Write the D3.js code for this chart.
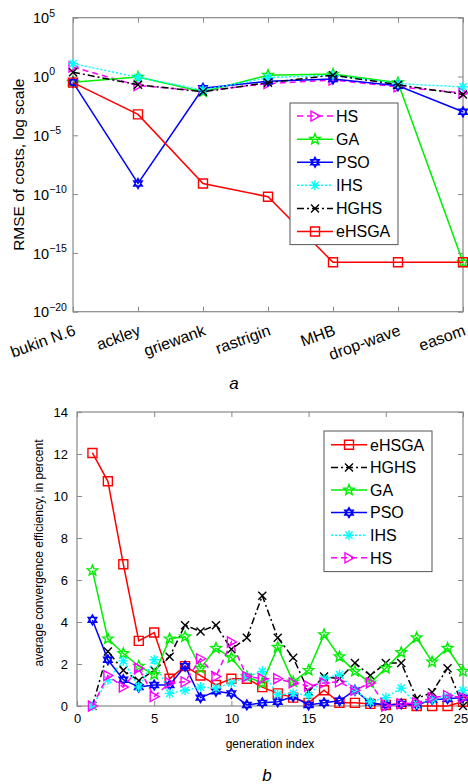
<!DOCTYPE html>
<html>
<head>
<meta charset="utf-8">
<script src="https://cdn.jsdelivr.net/npm/d3@7"></script>
<style>
body{margin:0;background:#fff;}
svg text{font-family:"Liberation Sans",Arial,sans-serif;fill:#000;}
</style>
</head>
<body>
<div id="canvas"></div>
<script>
// ---- data, chart a (RMSE per test function) ----
var funcs = ['bukin N.6','ackley','griewank','rastrigin','MHB','drop-wave','easom'];
var rmseHS    = [6.3, 0.17, 0.06, 0.25, 0.5, 0.13, 0.04];
var rmseGA    = [0.32, 0.9, 0.05, 1.3, 1.6, 0.3, 1.6e-16];
var rmsePSO   = [0.32, 8e-10, 0.1, 0.4, 0.6, 0.16, 1e-3];
var rmseIHS   = [12.6, 0.85, 0.07, 0.8, 1.3, 0.25, 0.13];
var rmseHGHS  = [2.3, 0.2, 0.05, 0.3, 1.3, 0.2, 0.03];
var rmseEHSGA = [0.3, 6e-4, 8e-10, 6e-11, 1.6e-16, 1.6e-16, 1.6e-16];
var logTicks  = [1e-20, 1e-15, 1e-10, 1e-5, 1e0, 1e5];

// ---- data, chart b (convergence efficiency per generation) ----
var generations = d3.range(1, 26);
var effEHSGA = [12.05,10.7,6.75,3.1,3.5,1.3,1.9,1.45,1.0,1.3,1.3,0.9,0.6,0.4,0.15,0.75,0.15,0.15,0.1,0.05,0.1,0.0,0.0,0.0,0.2];
var effHGHS  = [0,2.6,1.7,1.2,1.7,2.35,3.85,3.55,3.85,2.7,3.25,5.25,3.25,2.3,0.7,1.4,1.3,2.05,1.45,2.05,2.05,0.35,0.65,1.8,0];
var effGA    = [6.45,3.2,2.5,1.9,1.5,3.2,3.3,1.8,2.75,2.3,1.4,1.1,2.8,1.15,1.7,3.4,2.35,1.65,1.1,1.8,2.55,3.25,2.1,2.75,1.65];
var effPSO   = [4.1,2.2,1.25,0.9,1.0,1.0,1.9,0.4,0.7,0.6,0.05,0.15,0.2,0.45,0.05,0.15,0.25,0.75,0.15,0.05,0.1,0.05,0.3,0.35,0.4];
var effIHS   = [0,1.25,2.15,0.9,2.2,0.6,0.75,0.9,0.85,1.1,1.4,1.65,0.55,0.6,0.5,1.3,1.5,0.75,0.2,0.4,0.85,0.1,0.3,0.45,0.75];
var effHS    = [0,1.45,0.9,1.8,0.45,1.1,1.15,2.25,1.4,3.05,1.4,1.3,1.3,1.1,0.95,1.1,1.15,0.75,1.1,0.0,0.1,0.15,0.4,0.5,0.4];
var yTicksB  = [0,2,4,6,8,10,12,14];
var xTicksB  = [0,5,10,15,20,25];

var W = 468, H = 784;
var svg = d3.select('#canvas').append('svg').attr('width', W).attr('height', H);

// marker shapes (MATLAB style, unfilled)
function markerPath(type){
    if(type=='square') return 'M-4.5,-4.5h9v9h-9z';
    if(type=='x') return 'M-4,-4L4,4M-4,4L4,-4';
    if(type=='tri') return 'M-4,-5L5,0L-4,5Z';
    if(type=='star'){
        var p = [];
        for(var i=0;i<10;i++){
            var r = i%2 ? 2.4 : 5.5, a = -Math.PI/2 + i*Math.PI/5;
            p.push([r*Math.cos(a), r*Math.sin(a)]);
        }
        return 'M'+p.join('L')+'Z';
    }
    if(type=='hex'){
        var t1 = [], t2 = [];
        for(var j=0;j<3;j++){
            var a1 = -Math.PI/2 + j*2*Math.PI/3, a2 = Math.PI/2 + j*2*Math.PI/3;
            t1.push([5*Math.cos(a1), 5*Math.sin(a1)]);
            t2.push([5*Math.cos(a2), 5*Math.sin(a2)]);
        }
        return 'M'+t1.join('L')+'ZM'+t2.join('L')+'Z';
    }
    if(type=='ast') return 'M-5,0L5,0M0,-5L0,5M-3.6,-3.6L3.6,3.6M-3.6,3.6L3.6,-3.6';
}

var styles = {
    HS:    {color:'#ff00ff', dash:'6,4',     marker:'tri'},
    GA:    {color:'#00ee00', dash:null,      marker:'star'},
    PSO:   {color:'#0000ff', dash:null,      marker:'hex'},
    IHS:   {color:'#00ffff', dash:'2,2',     marker:'ast'},
    HGHS:  {color:'#000000', dash:'7,3,2,3', marker:'x'},
    eHSGA: {color:'#ff0000', dash:null,      marker:'square'}
};

function drawSeries(g, name, pts){
    var s = styles[name];
    g.append('path')
        .datum(pts)
        .attr('d', d3.line().x(function(d){return d[0];}).y(function(d){return d[1];}))
        .style('fill','none').style('stroke', s.color).style('stroke-width', 1.5)
        .style('stroke-dasharray', s.dash);
    g.selectAll('.m'+name).data(pts).enter()
        .append('path').attr('class','m'+name)
        .attr('transform', function(d){return 'translate('+d[0]+','+d[1]+')';})
        .attr('d', markerPath(s.marker))
        .style('fill','none').style('stroke', s.color).style('stroke-width', 1.4);
}

function drawLegend(g, names, x, y, w, rowH, pad){
    g.append('rect').attr('x',x).attr('y',y).attr('width',w).attr('height',rowH*names.length+pad*2)
        .style('fill','#fff').style('stroke','#555').style('stroke-width',1);
    names.forEach(function(n, i){
        var s = styles[n], cy = y + pad + rowH*i + rowH/2;
        g.append('path').attr('d','M'+(x+7)+','+cy+'H'+(x+43))
            .style('stroke', s.color).style('stroke-width',1.5).style('stroke-dasharray', s.dash);
        g.append('path').attr('transform','translate('+(x+25)+','+cy+')').attr('d', markerPath(s.marker))
            .style('fill','none').style('stroke', s.color).style('stroke-width',1.4);
        g.append('text').attr('x', x+46).attr('y', cy).attr('dy','0.36em')
            .style('font-size','16px').text(n);
    });
}

function styleAxis(sel){
    sel.select('.domain').remove();
    sel.selectAll('.tick line').style('stroke','#888');
}

// ================= chart a =================
var xa = d3.scalePoint().domain(funcs).range([73, 463]);
var ya = d3.scaleLog().domain([1e-20, 1e5]).range([311.7, 17.7]);
var ga = svg.append('g');

ga.append('rect').attr('x',73).attr('y',17.7).attr('width',390).attr('height',294)
    .style('fill','none').style('stroke','#888').style('stroke-width',1.2);

ga.append('g').attr('transform','translate(0,311.7)')
    .call(d3.axisBottom(xa).tickSize(-5).tickPadding(0))
    .call(styleAxis)
    .selectAll('text')
    .style('font-size','16px')
    .attr('text-anchor','end')
    .attr('y',0).attr('dy',0)
    .attr('transform','translate(3,23) rotate(-20)');
ga.append('g').attr('transform','translate(0,17.7)')
    .call(d3.axisTop(xa).tickSize(-5).tickFormat(''))
    .call(styleAxis);

var yAxA = ga.append('g').attr('transform','translate(73,0)')
    .call(d3.axisLeft(ya).tickValues(logTicks).tickSize(-5).tickFormat(''))
    .call(styleAxis);
ga.append('g').attr('transform','translate(463,0)')
    .call(d3.axisRight(ya).tickValues(logTicks).tickSize(-5).tickFormat(''))
    .call(styleAxis);

// 10^n labels with superscripts
yAxA.selectAll('.tick').each(function(d){
    var t = d3.select(this).append('text').attr('x',-40).attr('y',0).attr('dy','0.36em')
        .attr('text-anchor','start').style('font-size','14.5px');
    t.append('tspan').text('10');
    var e = Math.round(Math.log10(d));
    t.append('tspan').attr('dy','-0.65em').style('font-size','10.5px')
        .text(e < 0 ? '\u2212' + (-e) : String(e));
});

ga.append('text').attr('transform','translate(24,164.7) rotate(-90)')
    .attr('text-anchor','middle').style('font-size','15.5px')
    .text('RMSE of costs, log scale');

var seriesA = [['HS',rmseHS],['GA',rmseGA],['PSO',rmsePSO],['IHS',rmseIHS],['HGHS',rmseHGHS],['eHSGA',rmseEHSGA]];
seriesA.forEach(function(s){
    drawSeries(ga, s[0], s[1].map(function(v,i){return [xa(funcs[i]), ya(v)];}));
});
drawLegend(ga, ['HS','GA','PSO','IHS','HGHS','eHSGA'], 290, 103, 108, 23.1, 1.5);

svg.append('text').attr('x',234).attr('y',389).attr('text-anchor','middle')
    .style('font-size','17px').style('font-style','italic').text('a');

// ================= chart b =================
var xb = d3.scaleLinear().domain([0,25]).range([77, 463]);
var yb = d3.scaleLinear().domain([0,14]).range([706, 412]);
var gb = svg.append('g');

gb.append('rect').attr('x',77).attr('y',412).attr('width',386).attr('height',294)
    .style('fill','none').style('stroke','#888').style('stroke-width',1.2);

gb.append('g').attr('transform','translate(0,706)')
    .call(d3.axisBottom(xb).tickValues(xTicksB).tickSize(-5).tickPadding(8))
    .call(styleAxis)
    .selectAll('text').style('font-size','13px')
    .attr('dx', function(d){ return d == 25 ? '-0.2em' : 0; });
gb.append('g').attr('transform','translate(0,412)')
    .call(d3.axisTop(xb).tickValues(xTicksB).tickSize(-5).tickFormat(''))
    .call(styleAxis);
gb.append('g').attr('transform','translate(77,0)')
    .call(d3.axisLeft(yb).tickValues(yTicksB).tickSize(-5).tickPadding(9))
    .call(styleAxis)
    .selectAll('text').style('font-size','13px');
gb.append('g').attr('transform','translate(463,0)')
    .call(d3.axisRight(yb).tickValues(yTicksB).tickSize(-5).tickFormat(''))
    .call(styleAxis);

gb.append('text').attr('x',270).attr('y',748).attr('text-anchor','middle')
    .style('font-size','12px').text('generation index');
gb.append('text').attr('transform','translate(43,553) rotate(-90)')
    .attr('text-anchor','middle').style('font-size','12px')
    .text('average convergence efficiency, in percent');

var seriesB = [['eHSGA',effEHSGA],['HGHS',effHGHS],['GA',effGA],['PSO',effPSO],['IHS',effIHS],['HS',effHS]];
seriesB.forEach(function(s){
    drawSeries(gb, s[0], s[1].map(function(v,i){return [xb(generations[i]), yb(v)];}));
});
drawLegend(gb, ['eHSGA','HGHS','GA','PSO','IHS','HS'], 324, 431, 108, 22.6, 2.5);

svg.append('text').attr('x',267).attr('y',781).attr('text-anchor','middle')
    .style('font-size','17px').style('font-style','italic').text('b');
</script>
</body>
</html>
